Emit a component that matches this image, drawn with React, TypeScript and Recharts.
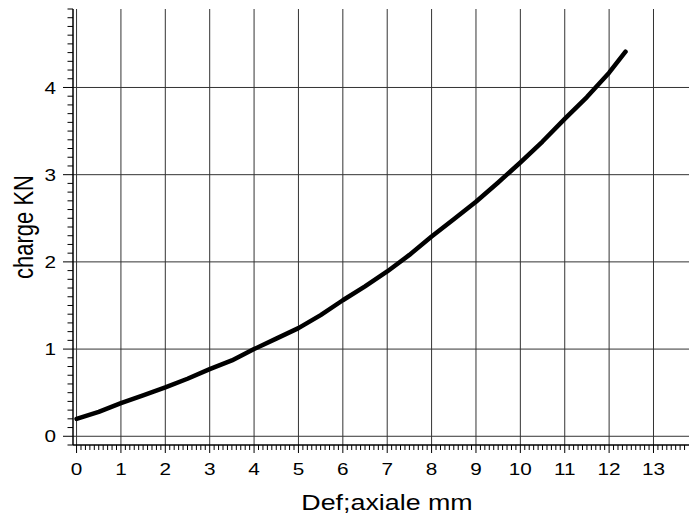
import React from "react";
import {
  LineChart,
  Line,
  XAxis,
  YAxis,
  CartesianGrid,
  Label,
} from "recharts";

// Def;axiale (mm) vs charge (kN)
const defAxiale = [
  0, 0.5, 1, 1.5, 2, 2.5, 3, 3.5, 4, 4.5, 5, 5.5, 6, 6.5, 7, 7.5, 8, 8.5, 9,
  9.5, 10, 10.5, 11, 11.5, 12, 12.37,
];
const chargeKN = [
  0.2, 0.28, 0.38, 0.47, 0.56, 0.66, 0.77, 0.87, 1.0, 1.12, 1.24, 1.39, 1.56,
  1.72, 1.89, 2.08, 2.29, 2.49, 2.69, 2.91, 3.14, 3.38, 3.64, 3.89, 4.17, 4.41,
];

const xMajorTicks = [0, 1, 2, 3, 4, 5, 6, 7, 8, 9, 10, 11, 12, 13];
const yMajorTicks = [0, 1, 2, 3, 4];

// minor ticks every 0.1 unit
const xMinorTicks = Array.from({ length: 138 }, (_, i) => i / 10);
const yMinorTicks = Array.from({ length: 51 }, (_, i) => (i - 1) / 10);

const data = defAxiale.map((x, i) => ({ x, charge: chargeKN[i] }));

const FONT = "'Liberation Sans', Arial, sans-serif";
const STRETCH = 1.22;

const isMajor = (v: number, majors: number[]) =>
  majors.some((m) => Math.abs(m - v) < 1e-6);

const XTick = (props: any) => {
  const { x, y, payload } = props;
  const v = payload.value;
  const major = isMajor(v, xMajorTicks);
  return (
    <g>
      <line x1={x} x2={x} y1={y} y2={y + (major ? 8 : 5)} stroke="#000" strokeWidth={1} />
      {major && (
        <text
          transform={`translate(${x},${y + 30}) scale(${STRETCH},1)`}
          textAnchor="middle"
          fontSize={17}
          fontFamily={FONT}
          fill="#000"
        >
          {Math.round(v)}
        </text>
      )}
    </g>
  );
};

const YTick = (props: any) => {
  const { x, y, payload } = props;
  const v = payload.value;
  const major = isMajor(v, yMajorTicks);
  return (
    <g>
      <line x1={x - (major ? 10 : 5.5)} x2={x} y1={y} y2={y} stroke="#000" strokeWidth={1} />
      {major && (
        <text
          transform={`translate(${x - 17},${y + 6.2}) scale(${STRETCH},1)`}
          textAnchor="end"
          fontSize={17}
          fontFamily={FONT}
          fill="#000"
        >
          {Math.round(v)}
        </text>
      )}
    </g>
  );
};

export default function App() {
  return (
    <div style={{ position: "absolute", left: 0, top: 0, background: "#fff" }}>
      <LineChart
        width={689}
        height={515}
        data={data}
        margin={{ top: 9, right: 0, bottom: 0, left: 0 }}
      >
        <CartesianGrid
          stroke="#333"
          strokeWidth={1}
          horizontalValues={yMajorTicks}
          verticalValues={xMajorTicks}
        />
        <XAxis
          type="number"
          dataKey="x"
          domain={[-0.08, 13.8]}
          ticks={xMinorTicks}
          interval={0}
          height={70}
          tickSize={0}
          tickMargin={0}
          tickLine={false}
          tick={<XTick />}
          axisLine={{ stroke: "#000", strokeWidth: 1.5 }}
        >
          <Label
            content={() => (
              <text
                transform={`translate(387,510) scale(${STRETCH},1)`}
                textAnchor="middle"
                fontSize={22}
                fontFamily={FONT}
                fill="#000"
              >
                Def;axiale mm
              </text>
            )}
          />
        </XAxis>
        <YAxis
          type="number"
          domain={[-0.1, 4.9]}
          ticks={yMinorTicks}
          interval={0}
          width={73}
          tickSize={0}
          tickMargin={0}
          tickLine={false}
          tick={<YTick />}
          axisLine={{ stroke: "#000", strokeWidth: 1.5 }}
        >
          <Label
            content={() => (
              <text
                transform={`translate(33,227) scale(${STRETCH},1) rotate(-90)`}
                textAnchor="middle"
                fontSize={22}
                fontFamily={FONT}
                fill="#000"
              >
                charge KN
              </text>
            )}
          />
        </YAxis>
        <Line
          type="linear"
          dataKey="charge"
          stroke="#000"
          strokeWidth={4.5}
          strokeLinecap="round"
          strokeLinejoin="round"
          dot={false}
          isAnimationActive={false}
        />
      </LineChart>
    </div>
  );
}
